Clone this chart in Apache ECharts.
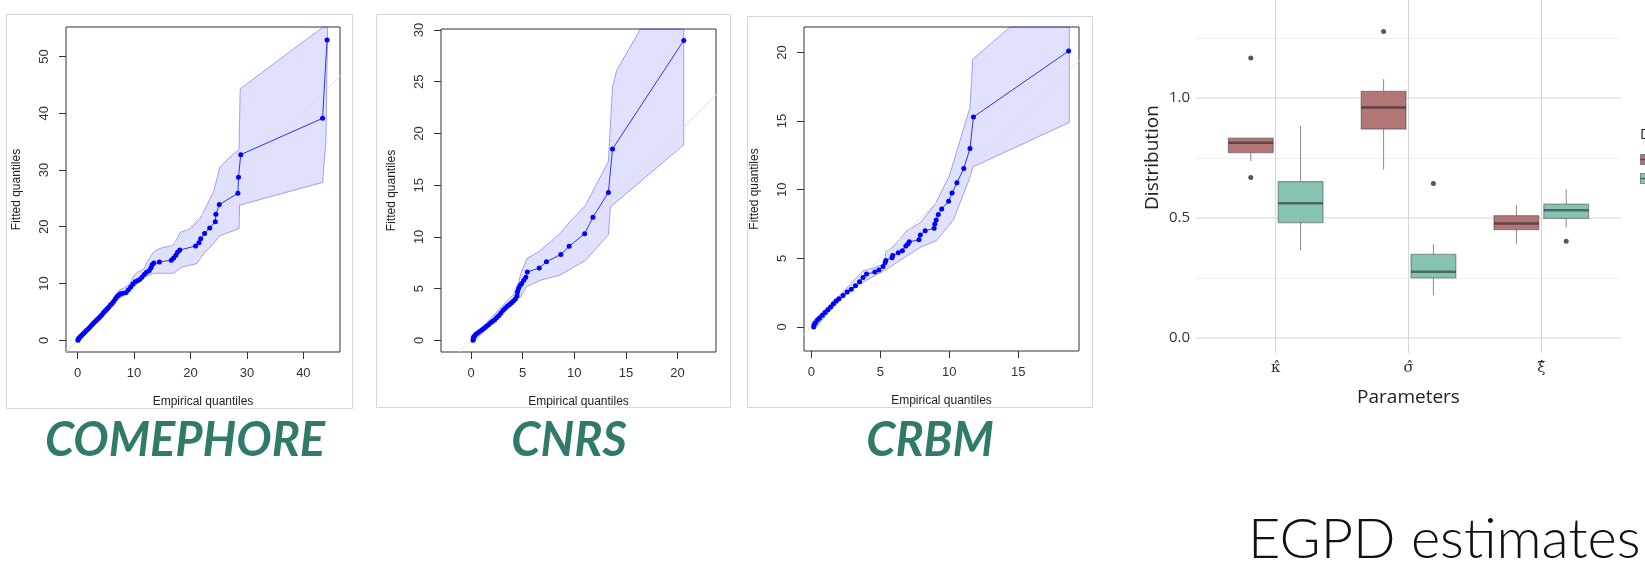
<!DOCTYPE html>
<html lang="en">
<head>
<meta charset="UTF-8">
<title>EGPD estimates</title>
<script src="https://cdn.jsdelivr.net/npm/echarts@6/dist/echarts.min.js"></script>
<style>
    html, body { margin: 0; padding: 0; background: #fff; }
    #main { width: 1645px; height: 576px; }
</style>
</head>
<body>
<div id="main"></div>
<script>
// QQ plots: [empirical, fitted] pairs
var comephorePoints = [[0.05,0.0],[0.1,0.2],[0.2,0.35],[0.35,0.5],[0.5,0.65],[0.7,0.85],[0.9,1.05],[1.1,1.25],[1.35,1.5],[1.6,1.75],[1.9,2.05],[2.2,2.35],[2.5,2.7],[2.8,3.0],[3.1,3.3],[3.4,3.6],[3.7,3.9],[4.0,4.2],[4.3,4.5],[4.6,4.9],[4.9,5.2],[5.2,5.5],[5.5,5.8],[5.8,6.2],[6.1,6.5],[6.4,6.9],[6.7,7.3],[7.0,7.7],[7.3,8.0],[7.6,8.2],[8.0,8.3],[8.6,8.4],[9.0,8.9],[9.4,9.4],[9.8,9.9],[10.2,10.3],[10.6,10.5],[11.0,10.7],[11.4,11.1],[11.8,11.6],[12.2,12.0],[12.7,12.3],[13.0,12.8],[13.2,13.3],[13.5,13.6],[14.5,13.8],[16.6,14.1],[17.0,14.5],[17.4,15.0],[17.7,15.5],[18.1,15.9],[20.9,16.6],[21.5,17.2],[21.8,17.9],[22.5,18.8],[23.4,19.8],[24.4,20.9],[24.5,22.2],[25.1,23.9],[28.4,25.9],[28.5,28.7],[28.9,32.7],[43.4,39.1],[44.2,52.9]];
var comephoreUpper = [[0,0.4],[2,2.5],[4,4.6],[6,6.9],[7.3,8.8],[8.4,9.3],[9.2,9.9],[10.0,11.4],[10.6,12.0],[11.7,12.5],[12.3,13.8],[13.5,15.6],[14.6,16.2],[17.0,16.8],[18.2,19.0],[20.0,19.7],[21.7,21.4],[24.1,26.2],[25.2,30.5],[27.0,32.3],[28.6,33.6],[28.8,44.3],[43.5,55.5],[44.3,57]];
var comephoreLower = [[0,-0.3],[2,1.7],[4,3.6],[6,5.8],[7.5,7.5],[8.5,8.0],[9.9,9.3],[11.7,11.1],[13.5,11.8],[17.0,11.8],[18.5,12.9],[21.1,13.5],[22.3,15.2],[24.1,17.1],[25.2,18.4],[27.6,19.3],[28.6,19.7],[28.7,23.8],[43.4,27.8],[44.0,35],[44.3,57]];

var cnrsPoints = [[0.2,0.0],[0.22,0.15],[0.25,0.3],[0.35,0.45],[0.5,0.6],[0.7,0.75],[0.9,0.9],[1.1,1.05],[1.3,1.2],[1.5,1.35],[1.7,1.5],[1.9,1.7],[2.1,1.85],[2.3,2.0],[2.5,2.2],[2.7,2.4],[2.9,2.65],[3.1,2.9],[3.3,3.1],[3.5,3.3],[3.7,3.45],[3.9,3.6],[4.1,3.8],[4.3,4.0],[4.45,4.3],[4.5,4.7],[4.6,5.0],[4.75,5.3],[4.9,5.5],[5.1,5.8],[5.3,6.1],[5.45,6.6],[6.6,7.0],[7.3,7.6],[8.7,8.3],[9.5,9.1],[11.0,10.3],[11.8,11.9],[13.3,14.3],[13.7,18.5],[20.6,29.0]];
var cnrsUpper = [[0.0,0.4],[0.9,1.1],[2.0,2.2],[3.1,3.4],[4.1,4.4],[4.6,5.6],[4.8,6.4],[5.4,7.9],[6.6,8.6],[8.6,10.3],[9.6,11.5],[11.05,13.0],[13.3,17.3],[13.7,24.5],[14.1,26.1],[16.4,31],[20.6,31]];
var cnrsLower = [[0.05,-0.2],[0.55,0.15],[2.5,2.1],[4.1,3.55],[4.9,4.35],[5.4,5.2],[6.7,5.8],[8.6,6.3],[11.05,7.7],[13.3,10.2],[13.5,12.9],[20.6,18.9],[20.6,31]];

var crbmPoints = [[0.17,0.0],[0.2,0.15],[0.3,0.3],[0.45,0.5],[0.6,0.65],[0.8,0.85],[1.0,1.05],[1.2,1.25],[1.4,1.45],[1.6,1.7],[1.8,1.9],[2.0,2.05],[2.3,2.3],[2.6,2.55],[2.9,2.75],[3.2,3.0],[3.5,3.3],[3.75,3.6],[4.0,3.85],[4.6,4.0],[4.9,4.15],[5.2,4.4],[5.35,4.7],[5.4,4.85],[5.85,5.05],[5.9,5.2],[6.3,5.4],[6.6,5.55],[6.85,5.9],[7.0,6.05],[7.1,6.2],[7.8,6.35],[7.9,6.7],[8.25,7.0],[8.9,7.2],[8.95,7.5],[9.05,7.8],[9.2,8.2],[9.45,8.6],[9.95,9.15],[10.2,9.75],[10.55,10.5],[11.05,11.55],[11.5,13.0],[11.75,15.3],[18.65,20.1]];
var crbmUpper = [[0.0,0.3],[1.0,1.3],[2.05,2.3],[3.0,3.3],[3.75,4.1],[4.5,4.3],[5.3,4.6],[5.4,5.5],[5.9,5.8],[6.9,7.0],[7.9,7.6],[8.95,8.9],[10.0,11.0],[11.5,16.0],[11.7,19.5],[14.4,22.5],[18.7,22.5]];
var crbmLower = [[0.24,-0.15],[1.33,1.15],[2.8,2.65],[4.0,3.4],[5.2,4.05],[5.9,4.5],[7.9,5.8],[9.07,6.3],[10.3,7.8],[11.5,10.9],[11.7,11.65],[18.7,14.9],[18.7,22.5]];

var panelTitles = ['COMEPHORE', 'CNRS', 'CRBM'];
var comephoreXTicks = [0, 10, 20, 30, 40];
var comephoreYTicks = [0, 10, 20, 30, 40, 50];
var cnrsXTicks = [0, 5, 10, 15, 20];
var cnrsYTicks = [0, 5, 10, 15, 20, 25, 30];
var crbmXTicks = [0, 5, 10, 15];
var crbmYTicks = [0, 5, 10, 15, 20];

// EGPD boxplots: [min, Q1, median, Q3, max] per parameter
var paramLabels = ['κ\u0302', 'σ\u0302', 'ξ\u0302'];
var distNames = ['Observed', 'Simulated'];
var observedStats = [[0.737, 0.772, 0.813, 0.832, 0.832], [0.701, 0.870, 0.960, 1.028, 1.078], [0.390, 0.451, 0.476, 0.509, 0.553]];
var simulatedStats = [[0.365, 0.480, 0.561, 0.651, 0.883], [0.177, 0.249, 0.275, 0.348, 0.390], [0.461, 0.498, 0.532, 0.557, 0.619]];
// [parameter number, value]
var observedOutliers = [[1, 1.167], [1, 0.668], [2, 1.277]];
var simulatedOutliers = [[2, 0.643], [3, 0.402]];
var distTicks = [0, 0.5, 1.0];
var distMinorTicks = [0.25, 0.75, 1.25];

var DODGE = 0.1875;
var BOX_W = 0.3375;
var RED = '#b27676';
var TEAL = '#87c3b3';
var QQ_FONT = 'Liberation Sans';
var GG_FONT = 'Open Sans';

var chart = echarts.init(document.getElementById('main'));

function bandRenderer(upper, lower) {
    return function (params, api) {
        if (params.dataIndex !== 0) return;
        var pts = upper.concat(lower.slice().reverse()).map(function (p) {
            return api.coord(p);
        });
        var cs = params.coordSys;
        pts = echarts.graphic.clipPointsByRect(pts, {x: cs.x, y: cs.y, width: cs.width, height: cs.height});
        return {
            type: 'polygon',
            shape: {points: pts},
            style: {fill: 'rgba(0,0,255,0.12)', stroke: 'rgba(60,60,255,0.45)', lineWidth: 1}
        };
    };
}

function qqAxes(i, xmin, xmax, ymin, ymax, xt, yt) {
    var tickStyle = {color: '#333', width: 1};
    var x = {
        gridIndex: i, type: 'value', min: xmin, max: xmax,
        axisLine: {show: false, onZero: false},
        axisTick: {show: true, customValues: xt, length: 7, lineStyle: tickStyle},
        axisLabel: {customValues: xt, margin: 15, color: '#333', fontSize: 13, fontFamily: QQ_FONT},
        splitLine: {show: false},
        name: 'Empirical quantiles', nameLocation: 'middle', nameGap: 44, nameMoveOverlap: false,
        nameTextStyle: {color: '#222', fontSize: 12, fontFamily: QQ_FONT}
    };
    var y = {
        gridIndex: i, type: 'value', min: ymin, max: ymax,
        axisLine: {show: false, onZero: false},
        axisTick: {show: true, customValues: yt, length: 7, lineStyle: tickStyle},
        axisLabel: {customValues: yt, rotate: 90, margin: 15, color: '#333', fontSize: 13, fontFamily: QQ_FONT},
        splitLine: {show: false},
        name: 'Fitted quantiles', nameLocation: 'middle', nameGap: 43, nameMoveOverlap: false,
        nameTextStyle: {color: '#222', fontSize: 12, fontFamily: QQ_FONT}
    };
    return [x, y];
}

function qqSeries(i, points, upper, lower) {
    return [
        {
            type: 'custom', xAxisIndex: i, yAxisIndex: i, z: 1,
            data: upper, renderItem: bandRenderer(upper, lower), silent: true
        },
        {
            type: 'line', xAxisIndex: i, yAxisIndex: i, z: 2,
            data: [[-10, -10], [80, 80]], showSymbol: false, silent: true,
            lineStyle: {color: '#dcdcdc', width: 1}
        },
        {
            type: 'line', xAxisIndex: i, yAxisIndex: i, z: 3,
            data: points, symbol: 'circle', symbolSize: 5,
            itemStyle: {color: '#0000ff'}, lineStyle: {color: '#3030ff', width: 1}
        }
    ];
}

function boxRenderer(offset, fill) {
    return function (params, api) {
        var x = api.value(0) + offset;
        var half = BOX_W / 2;
        var lo = api.coord([x, api.value(1)]);
        var q1 = api.coord([x - half, api.value(2)]);
        var md = api.coord([x - half, api.value(3)]);
        var q3 = api.coord([x + half, api.value(4)]);
        var hi = api.coord([x, api.value(5)]);
        var q1c = api.coord([x, api.value(2)]);
        var q3c = api.coord([x, api.value(4)]);
        var whisker = {stroke: 'rgba(60,60,60,0.6)', lineWidth: 1};
        return {
            type: 'group',
            children: [
                {type: 'line', shape: {x1: lo[0], y1: lo[1], x2: q1c[0], y2: q1c[1]}, style: whisker},
                {type: 'line', shape: {x1: hi[0], y1: hi[1], x2: q3c[0], y2: q3c[1]}, style: whisker},
                {type: 'rect', shape: {x: q1[0], y: q3[1], width: q3[0] - q1[0], height: q1[1] - q3[1]},
                    style: {fill: fill, stroke: 'rgba(50,50,50,0.45)', lineWidth: 1.2}},
                {type: 'line', shape: {x1: md[0], y1: md[1], x2: q3[0], y2: md[1]},
                    style: {stroke: 'rgba(30,30,30,0.55)', lineWidth: 2.5}}
            ]
        };
    };
}

var gridLines = [];
distTicks.forEach(function (v) {
    gridLines.push({yAxis: v, lineStyle: {color: '#e3e3e3', width: 1.5, type: 'solid'}});
});
distMinorTicks.forEach(function (v) {
    gridLines.push({yAxis: v, lineStyle: {color: '#efefef', width: 1, type: 'solid'}});
});
paramLabels.forEach(function (p, k) {
    gridLines.push({xAxis: k + 1, lineStyle: {color: '#d6d6d6', width: 1, type: 'solid'}});
});

var qq1 = qqAxes(0, -2.06, 46.49, -2.06, 55.18, comephoreXTicks, comephoreYTicks);
var qq2 = qqAxes(1, -2.91, 23.72, -1.13, 30.1, cnrsXTicks, cnrsYTicks);
var qq3 = qqAxes(2, -0.53, 19.40, -1.75, 21.85, crbmXTicks, crbmYTicks);

var frameStyle = {fill: 'none', stroke: '#d8d8d8', lineWidth: 1};
var titleStyle = {fill: '#2f7a6a', font: 'italic bold 47px Lato', textAlign: 'center', textVerticalAlign: 'middle'};
var keyStroke = 'rgba(50,50,50,0.5)';

chart.setOption({
    animation: false,
    grid: [
        {left: 66, top: 27, width: 274, height: 325, show: true, borderColor: '#333', borderWidth: 1, outerBoundsMode: 'none'},
        {left: 441, top: 29, width: 275, height: 323, show: true, borderColor: '#333', borderWidth: 1, outerBoundsMode: 'none'},
        {left: 804, top: 27, width: 275, height: 324, show: true, borderColor: '#333', borderWidth: 1, outerBoundsMode: 'none'},
        {left: 1196, top: -38, width: 425, height: 391, outerBoundsMode: 'none'}
    ],
    xAxis: [qq1[0], qq2[0], qq3[0], {
        gridIndex: 3, type: 'value', min: 0.4, max: 3.6,
        axisLine: {show: false, onZero: false}, axisTick: {show: false}, splitLine: {show: false},
        axisLabel: {
            customValues: [1, 2, 3], margin: 8, color: '#333', fontSize: 15, fontFamily: 'DejaVu Serif',
            formatter: function (v) { return paramLabels[Math.round(v) - 1]; }
        },
        name: 'Parameters', nameLocation: 'middle', nameGap: 35, nameMoveOverlap: false,
        nameTextStyle: {color: '#222', fontSize: 19, fontFamily: GG_FONT}
    }],
    yAxis: [qq1[1], qq2[1], qq3[1], {
        gridIndex: 3, type: 'value', min: -0.0638, max: 1.567,
        axisLine: {show: false, onZero: false}, axisTick: {show: false}, splitLine: {show: false},
        axisLabel: {
            customValues: distTicks, margin: 6, color: '#333', fontSize: 15, fontFamily: GG_FONT,
            formatter: function (v) { return v.toFixed(1); }
        },
        name: 'Distribution', nameLocation: 'middle', nameGap: 34, nameMoveOverlap: false,
        nameTextStyle: {color: '#222', fontSize: 19, fontFamily: GG_FONT}
    }],
    graphic: [
        {type: 'rect', shape: {x: 6.5, y: 14.5, width: 346, height: 394}, style: frameStyle, silent: true},
        {type: 'rect', shape: {x: 376.5, y: 14.5, width: 354, height: 393}, style: frameStyle, silent: true},
        {type: 'rect', shape: {x: 747.5, y: 16.5, width: 345, height: 391}, style: frameStyle, silent: true},
        {type: 'text', x: 185, y: 441, style: Object.assign({text: panelTitles[0]}, titleStyle)},
        {type: 'text', x: 569, y: 441, style: Object.assign({text: panelTitles[1]}, titleStyle)},
        {type: 'text', x: 930, y: 441, style: Object.assign({text: panelTitles[2]}, titleStyle)},
        {type: 'text', x: 1248, y: 540, style: {text: 'EGPD estimates', fill: '#111', font: '300 56px Lato', textVerticalAlign: 'middle'}},
        // legend (cut off by the right edge, as in the original)
        {type: 'text', x: 1640, y: 135, style: {text: 'Dataset', fill: '#222', font: '15px "Open Sans"', textVerticalAlign: 'middle'}},
        {type: 'rect', shape: {x: 1640.5, y: 154.5, width: 16, height: 10}, style: {fill: RED, stroke: keyStroke, lineWidth: 1}},
        {type: 'line', shape: {x1: 1640.5, y1: 159.5, x2: 1657, y2: 159.5}, style: {stroke: 'rgba(30,30,30,0.55)', lineWidth: 1.5}},
        {type: 'rect', shape: {x: 1640.5, y: 173.5, width: 16, height: 10}, style: {fill: TEAL, stroke: keyStroke, lineWidth: 1}},
        {type: 'line', shape: {x1: 1640.5, y1: 178.5, x2: 1657, y2: 178.5}, style: {stroke: 'rgba(30,30,30,0.55)', lineWidth: 1.5}}
    ],
    series: [].concat(
        qqSeries(0, comephorePoints, comephoreUpper, comephoreLower),
        qqSeries(1, cnrsPoints, cnrsUpper, cnrsLower),
        qqSeries(2, crbmPoints, crbmUpper, crbmLower),
        [
            {
                name: distNames[0], type: 'custom', xAxisIndex: 3, yAxisIndex: 3, z: 3,
                itemStyle: {color: RED},
                data: observedStats.map(function (s, k) { return [k + 1].concat(s); }),
                encode: {x: 0, y: [1, 2, 3, 4, 5]},
                renderItem: boxRenderer(-DODGE, RED)
            },
            {
                name: distNames[1], type: 'custom', xAxisIndex: 3, yAxisIndex: 3, z: 3,
                itemStyle: {color: TEAL},
                data: simulatedStats.map(function (s, k) { return [k + 1].concat(s); }),
                encode: {x: 0, y: [1, 2, 3, 4, 5]},
                renderItem: boxRenderer(DODGE, TEAL)
            },
            {
                type: 'scatter', xAxisIndex: 3, yAxisIndex: 3, z: 4, symbolSize: 5,
                itemStyle: {color: '#2a2a2a'}, silent: true,
                data: observedOutliers.map(function (o) { return [o[0] - DODGE, o[1]]; }),
                markLine: {
                    silent: true, symbol: ['none', 'none'], z: 1, label: {show: false},
                    data: gridLines
                }
            },
            {
                type: 'scatter', xAxisIndex: 3, yAxisIndex: 3, z: 4, symbolSize: 5,
                itemStyle: {color: '#2a2a2a'}, silent: true,
                data: simulatedOutliers.map(function (o) { return [o[0] + DODGE, o[1]]; })
            }
        ]
    )
});
</script>
</body>
</html>
